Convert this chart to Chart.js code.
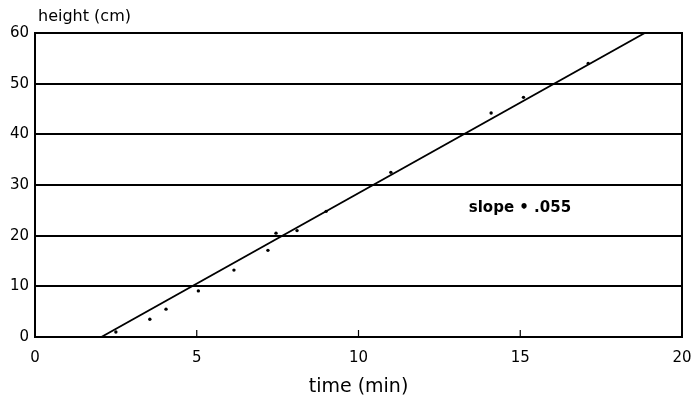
<!DOCTYPE html>
<html>
<head>
<meta charset="utf-8">
<script src="https://cdn.jsdelivr.net/npm/chart.js@4"></script>
<style>
  html, body { margin: 0; padding: 0; background: #fff; }
  canvas { display: block; }
</style>
</head>
<body>
<canvas id="c" width="692" height="401"></canvas>
<script>
// ---- data ----
const timeMin   = [2.5, 3.55, 4.05, 5.05, 6.15, 7.2, 7.45, 8.1, 9.0, 11.0, 14.1, 15.1, 17.1];
const heightCm  = [1.0, 3.5, 5.5, 9.1, 13.2, 17.1, 20.5, 21.0, 24.8, 32.5, 44.2, 47.3, 54.0];
const fitX      = [2.05, 18.85];
const fitY      = [0, 60];
const xTicks    = [0, 5, 10, 15, 20];
const yTicks    = [0, 10, 20, 30, 40, 50, 60];
const yTitle    = 'height (cm)';
const xTitle    = 'time (min)';
const noteText  = 'slope \u2022 .055';
const noteAt    = [14.99, 25.5];

const FONT = "'DejaVu Sans', sans-serif";

const pts  = timeMin.map((x, i) => ({ x, y: heightCm[i] }));
const line = fitX.map((x, i) => ({ x, y: fitY[i] }));

const decor = {
  id: 'decor',
  afterDraw(chart) {
    const { ctx, chartArea: a, scales: { x, y } } = chart;
    ctx.save();
    ctx.strokeStyle = '#000';
    ctx.lineWidth = 2;
    // right border
    ctx.beginPath();
    ctx.moveTo(a.right, a.top - 1);
    ctx.lineTo(a.right, a.bottom + 1);
    ctx.stroke();
    // small inward x ticks
    ctx.lineWidth = 1.2;
    [5, 10, 15].forEach(v => {
      const px = x.getPixelForValue(v);
      ctx.beginPath();
      ctx.moveTo(px, a.bottom);
      ctx.lineTo(px, a.bottom - 7);
      ctx.stroke();
    });
    // y title
    ctx.fillStyle = '#000';
    ctx.font = '16px ' + FONT;
    ctx.textAlign = 'left';
    ctx.textBaseline = 'middle';
    ctx.fillText(yTitle, 38, 17);
    // note
    ctx.font = 'bold 15px ' + FONT;
    ctx.textAlign = 'center';
    ctx.fillText(noteText, x.getPixelForValue(noteAt[0]), y.getPixelForValue(noteAt[1]));
    ctx.restore();
  }
};

new Chart(document.getElementById('c'), {
  type: 'scatter',
  data: {
    datasets: [
      {
        data: pts,
        pointRadius: 1.7,
        pointBackgroundColor: '#000',
        pointBorderWidth: 0,
        showLine: false
      },
      {
        data: line,
        showLine: true,
        pointRadius: 0,
        borderColor: '#000',
        borderWidth: 1.8,
        fill: false
      }
    ]
  },
  options: {
    responsive: false,
    animation: false,
    devicePixelRatio: 1,
    layout: { padding: { top: 33, right: 10, left: 0, bottom: 0 } },
    plugins: { legend: { display: false }, tooltip: { enabled: false } },
    scales: {
      x: {
        type: 'linear',
        min: 0, max: 20,
        afterBuildTicks(s) { s.ticks = xTicks.map(v => ({ value: v })); },
        ticks: { color: '#000', font: { family: FONT, size: 15 }, padding: 12, maxRotation: 0 },
        grid: { display: false, drawTicks: false },
        border: { display: true, color: '#000', width: 2 },
        title: { display: true, text: xTitle, color: '#000', font: { family: FONT, size: 19 }, padding: { top: 0, bottom: 3 } },
        afterFit(s) { s.height = 64; s.paddingLeft = 0; s.paddingRight = 0; }
      },
      y: {
        type: 'linear',
        min: 0, max: 60,
        afterBuildTicks(s) { s.ticks = yTicks.map(v => ({ value: v })); },
        ticks: { color: '#000', font: { family: FONT, size: 15 }, padding: 6 },
        grid: { color: '#000', lineWidth: 2, drawTicks: false },
        border: { display: true, color: '#000', width: 2 },
        afterFit(s) { s.width = 35; s.paddingTop = 0; s.paddingBottom = 0; }
      }
    }
  },
  plugins: [decor]
});
</script>
</body>
</html>
